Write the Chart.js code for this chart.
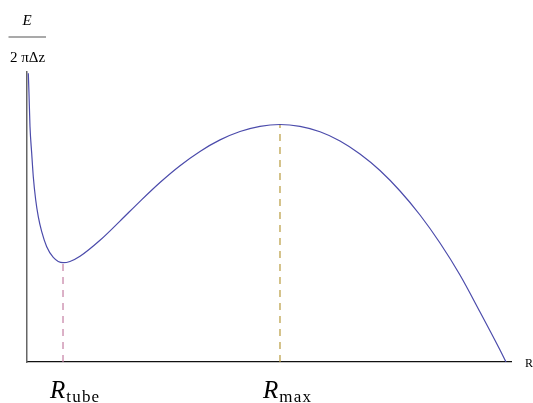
<!DOCTYPE html>
<html>
<head>
<meta charset="utf-8">
<script src="https://cdn.jsdelivr.net/npm/chart.js@4/dist/chart.umd.min.js"></script>
<style>
  html, body { margin: 0; padding: 0; background: #fff; }
  #wrap { width: 533px; height: 403px; position: relative; }
</style>
</head>
<body>
<div id="wrap"><canvas id="c"></canvas></div>
<script>
// Energy per unit length of the tube, sampled along the radius R
const radius = [0.027, 0.041, 0.062, 0.097, 0.130, 0.180, 0.233, 0.304, 0.407, 0.543,
                0.744, 0.888, 1.095, 1.508, 1.921, 2.335, 2.748, 3.161, 3.574, 3.988,
                4.401, 4.814, 5.227, 5.640, 6.054, 6.467, 6.880, 7.293, 7.707, 8.120,
                8.533, 8.946, 9.360, 9.773, 9.897];
const energy = [9.955, 9.266, 8.114, 7.197, 6.390, 5.586, 5.010, 4.493, 3.976, 3.610,
                3.424, 3.466, 3.645, 4.197, 4.859, 5.541, 6.190, 6.769, 7.262, 7.659,
                7.948, 8.128, 8.190, 8.124, 7.938, 7.621, 7.172, 6.603, 5.897, 5.069,
                4.103, 3.000, 1.724, 0.414, 0.000];

// Stationary points: local minimum (tube radius) and local maximum
const markerNames = ['tube', 'max'];
const markerR = [0.744, 5.227];
const markerE = [3.424, 8.190];
const markerColors = ['#c47fa3', '#b89a3c'];

const curve = radius.map((r, i) => ({ x: r, y: energy[i] }));

const markerSets = markerR.map((r, i) => ({
  data: [{ x: r, y: 0 }, { x: r, y: markerE[i] }],
  borderColor: markerColors[i],
  borderWidth: 1.2,
  borderDash: [7, 6],
  pointRadius: 0,
  tension: 0,
  fill: false
}));

// Axis captions and subscripted marker labels
const labelPlugin = {
  id: 'labels',
  afterDraw(chart) {
    const ctx = chart.ctx;
    const xs = chart.scales.x;
    const ys = chart.scales.y;
    ctx.save();
    ctx.fillStyle = '#000';
    ctx.textBaseline = 'alphabetic';

    // y caption as a fraction
    ctx.textAlign = 'center';
    ctx.font = 'italic 15px "Liberation Serif"';
    ctx.fillText('E', 27, 25);
    ctx.strokeStyle = '#555';
    ctx.lineWidth = 1.2;
    ctx.beginPath();
    ctx.moveTo(8.5, 37);
    ctx.lineTo(46, 37);
    ctx.stroke();
    ctx.font = '15px "Liberation Serif"';
    ctx.fillText('2 \u03C0\u0394z', 27.5, 62);

    // x caption
    ctx.textAlign = 'left';
    ctx.font = '12px "Liberation Serif"';
    ctx.fillText('R', xs.right + 14, ys.bottom + 5);

    // marker labels under the axis
    const offsets = [-13, -17];
    markerR.forEach((r, i) => {
      const px = xs.getPixelForValue(r) + offsets[i];
      ctx.font = 'italic 25px "Liberation Serif"';
      ctx.textAlign = 'left';
      ctx.letterSpacing = '0px';
      ctx.fillText('R', px, 398);
      const w = ctx.measureText('R').width;
      ctx.font = '17px "Liberation Serif"';
      ctx.letterSpacing = '1.2px';
      ctx.fillText(markerNames[i], px + w + 1, 402);
    });
    ctx.restore();
  }
};

new Chart(document.getElementById('c'), {
  type: 'line',
  data: {
    datasets: [
      {
        data: curve,
        borderColor: '#4b4bab',
        borderWidth: 1.2,
        pointRadius: 0,
        cubicInterpolationMode: 'monotone',
        fill: false
      },
      ...markerSets
    ]
  },
  options: {
    responsive: true,
    maintainAspectRatio: false,
    animation: false,
    layout: { padding: { left: 27, right: 22, top: 72, bottom: 41 } },
    plugins: { legend: { display: false }, tooltip: { enabled: false } },
    scales: {
      x: {
        type: 'linear', min: 0, max: 10,
        grid: { display: false, drawTicks: false },
        ticks: { display: false },
        border: { display: true, color: '#111', width: 1.3 }
      },
      y: {
        type: 'linear', min: 0, max: 10,
        grid: { display: false, drawTicks: false },
        ticks: { display: false },
        border: { display: true, color: '#666', width: 1.5 }
      }
    }
  },
  plugins: [labelPlugin]
});
</script>
</body>
</html>
